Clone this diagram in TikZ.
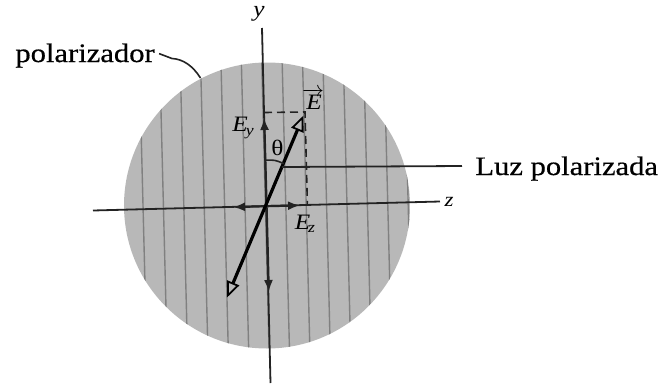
\documentclass[tikz,border=0pt]{standalone}
\usepackage{fontspec}
\setmainfont{Liberation Serif}[FakeStretch=1.15]
\usetikzlibrary{arrows.meta}
\definecolor{polfill}{RGB}{184,184,184}
\definecolor{stripe}{RGB}{128,128,128}
\definecolor{ink}{RGB}{35,35,35}
\begin{document}
\begin{tikzpicture}[x=0.5pt,y=-0.5pt,
  axis/.style={draw=ink, line width=0.9pt},
  stripeline/.style={draw=stripe, line width=0.7pt},
  comp/.style={draw=ink, line width=1.1pt, -{Latex[length=6pt,width=4.5pt]}},
  evec/.style={draw=black, line width=1.6pt, {Triangle[open,line width=0.9pt,length=8pt,width=6.5pt]}-{Triangle[open,line width=0.9pt,length=8pt,width=6.5pt]}},
  guide/.style={draw=ink, line width=0.8pt, dashed, dash pattern=on 4pt off 2.5pt},
  lead/.style={draw=ink, line width=0.8pt},
  biglabel/.style={font=\fontsize{13.3}{16}\selectfont\addfontfeature{FakeBold=0.6}, inner sep=0pt},
  smalllabel/.style={inner sep=0pt}
]
\useasboundingbox (0,0) rectangle (661,387);

% polarizer disc
\coordinate (C) at (267,205.5);
\fill[polfill] (C) circle [radius=71.5pt];
\begin{scope}
  \clip (C) circle [radius=71.5pt];
  \foreach \i in {-1,...,13}{
    \draw[stripeline] ({143+20.4*\i-4.2},40) -- ({143+20.4*\i+4.2},370);
  }
\end{scope}

% axes
\coordinate (ytop) at (262,28);
\coordinate (ybot) at (270.5,383);
\coordinate (zl) at (93,210.5);
\coordinate (zr) at (440,201.5);
\draw[axis] (ytop) -- (ybot);
\draw[axis] (zl) -- (zr);
\coordinate (O) at (266.6,206.2);

% components
\coordinate (Eyt) at (264.2,118);
\coordinate (Eyb) at (268.8,292);
\coordinate (Ezr) at (300,205.4);
\coordinate (Ezl) at (233,207.1);
\draw[comp] (O) -- (Eyt);
\draw[comp] (O) -- (Eyb);
\draw[comp] (O) -- (Ezr);
\draw[comp] (O) -- (Ezl);

% dashed projections
\coordinate (dy) at (264,112.5);
\coordinate (dc) at (305,112);
\coordinate (dz) at (307.4,205);
\draw[guide] (dy) -- (dc) -- (dz);

% E vector
\coordinate (Et) at (303.5,115.5);
\coordinate (Eb) at (227,297.5);
\draw[evec] (Eb) -- (Et);

% theta arc
\coordinate (a1) at (265.2,160.2);
\coordinate (a2) at (283.8,163.6);
\draw[lead] (a1) .. controls (274.9,159.9) .. (a2);
\node[smalllabel, font=\fontsize{11}{12}\selectfont] (theta) at (277.5,147.5) {θ};

% labels
\node[smalllabel, font=\fontsize{11}{12}\selectfont\itshape] (ylab) at (259,14) {y};
\node[smalllabel, font=\fontsize{10}{12}\selectfont\itshape] (zlab) at (449,202) {z};
\node[inner sep=0pt, font=\fontsize{11}{12}\selectfont] (Elab) at (313,99) {$\overrightarrow{\mathit{E}}$};
\node[inner sep=0pt, font=\fontsize{11}{12}\selectfont] (Eylab) at (243,128) {$\mathit{E}_{\mathit{y}}$};
\node[inner sep=0pt, font=\fontsize{11}{12}\selectfont] (Ezlab) at (305,224) {$\mathit{E}_{\mathit{z}}$};

% polarizador
\node[biglabel, anchor=base west] (pol) at (15,62) {polarizador};
\coordinate (polend) at (200.5,78);
\draw[lead] ([xshift=2pt,yshift=1pt]pol.east) -- (172,58.5) .. controls (183,59) and (193,66) .. (polend);

% luz polarizada
\node[biglabel, anchor=base west] (luz) at (475,175) {Luz polarizada};
\coordinate (luzs) at (281.8,167);
\coordinate (luze) at (462,166);
\draw[axis] (luzs) -- (luze);
\end{tikzpicture}
\end{document}
